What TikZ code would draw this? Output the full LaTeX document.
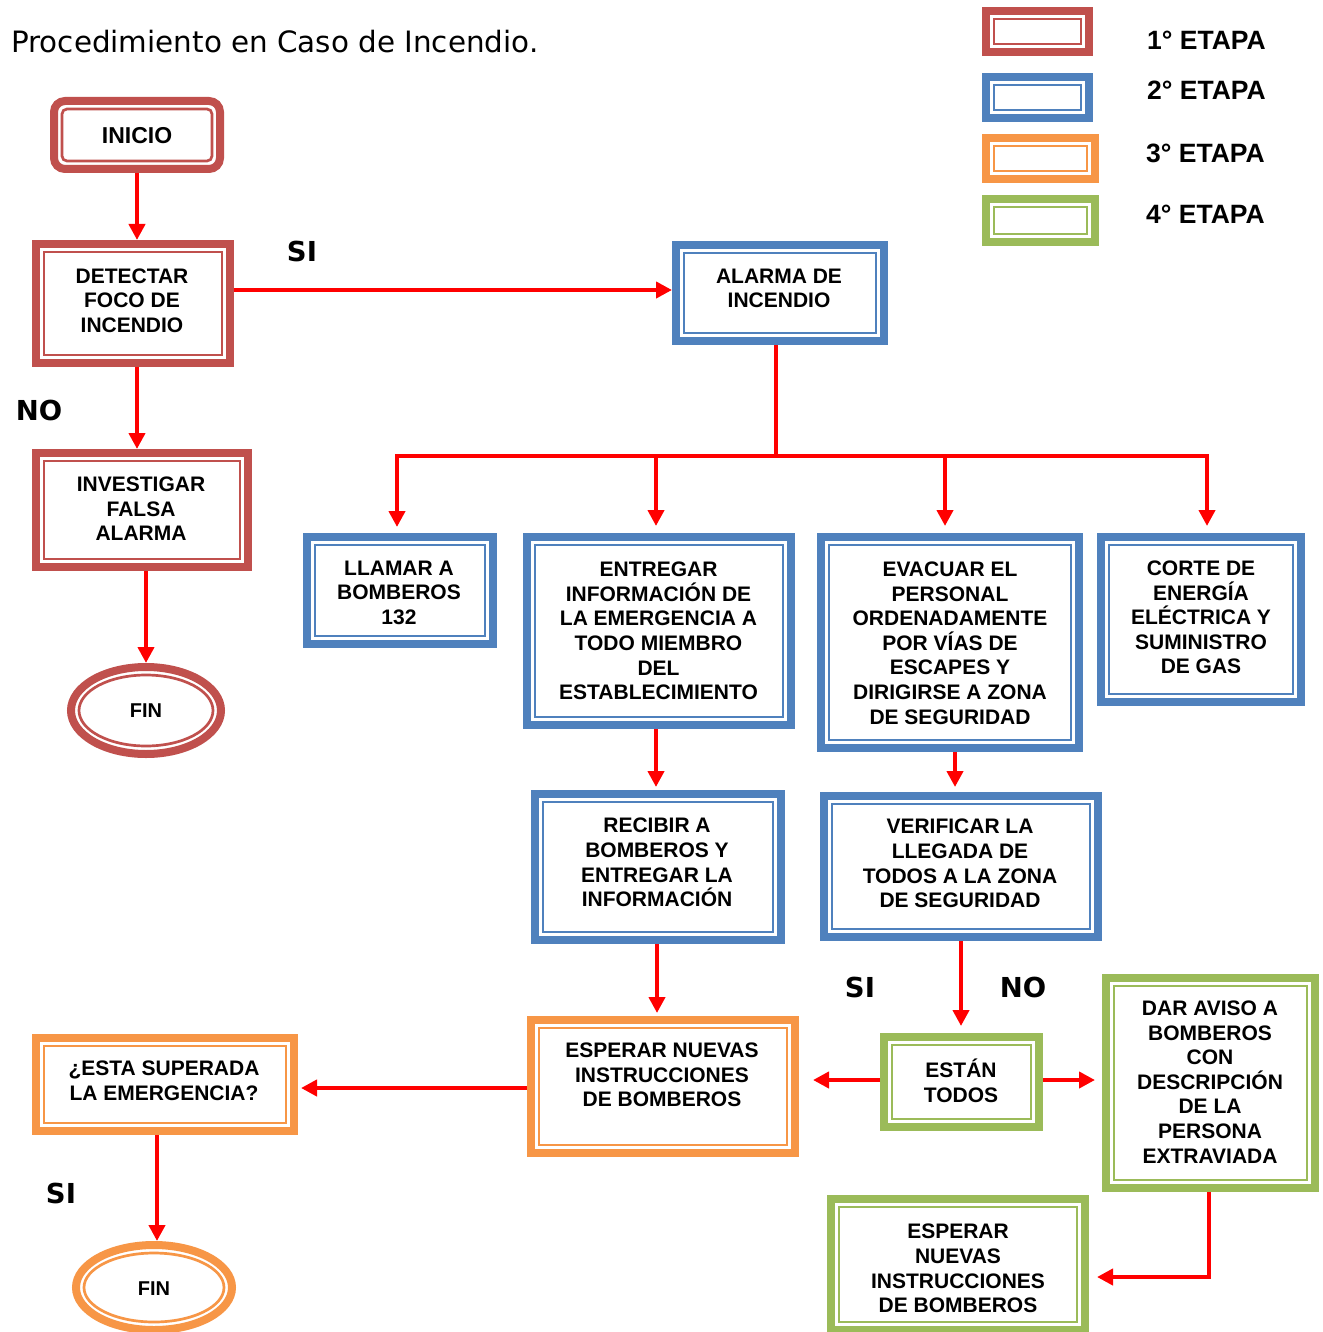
\documentclass[tikz,border=0pt]{standalone}
\usepackage{fontspec}
\setmainfont{Liberation Sans}
\newfontfamily\titlefont{DejaVu Sans}
\usetikzlibrary{arrows.meta,shapes.geometric,calc}
\definecolor{cRed}{HTML}{C0504D}
\definecolor{cBlue}{HTML}{4F81BD}
\definecolor{cOrange}{HTML}{F79646}
\definecolor{cGreen}{HTML}{9BBB59}
\definecolor{arrRed}{HTML}{FF0000}
\tikzset{
  stagebox/.style={rectangle, draw=#1, line width=8pt, fill=white, inner sep=0pt,
    path picture={\draw[#1, line width=2.7pt]
      ([shift={(8pt,8pt)}]path picture bounding box.south west) rectangle
      ([shift={(-8pt,-8pt)}]path picture bounding box.north east);}},
  stageround/.style={rectangle, rounded corners=11pt, draw=#1, line width=8pt, fill=white, inner sep=0pt,
    path picture={\draw[#1, line width=2.7pt, rounded corners=5pt]
      ([shift={(8pt,8pt)}]path picture bounding box.south west) rectangle
      ([shift={(-8pt,-8pt)}]path picture bounding box.north east);}},
  stageell/.style={ellipse, draw=#1, line width=8pt, fill=white, inner sep=0pt,
    path picture={\draw[#1, line width=2.7pt]
      let \p1=(path picture bounding box.north east),
          \p2=(path picture bounding box.center) in
      (\p2) ellipse [x radius={\x1-\x2-8pt}, y radius={\y1-\y2-8pt}];}},
  txt/.style={align=center, inner sep=0pt, font=\fontsize{21}{24.6}\selectfont\bfseries},
  lbl/.style={inner sep=0pt, font=\titlefont\fontsize{27.5}{30}\selectfont\bfseries},
  legtxt/.style={anchor=base west, inner sep=0pt, font=\fontsize{26.5}{30}\selectfont\bfseries},
  lin/.style={draw=arrRed, line width=4pt},
  arr/.style={draw=arrRed, line width=4pt, -{Triangle[length=16pt,width=16pt]}},
}
\begin{document}
\begin{tikzpicture}[x=1pt,y=-1pt]
\fill[white] (0,0) rectangle (1322,1332);
\useasboundingbox (0,0) rectangle (1322,1332);

% title
\node[anchor=base west, inner sep=0pt, font=\titlefont\fontsize{29.4}{34}\selectfont] (title) at (11,53) {Procedimiento en Caso de Incendio.};

% legend
\node[stagebox=cRed, minimum width=103pt, minimum height=41pt] (leg1) at (1037.5,31.5) {};
\node[stagebox=cBlue, minimum width=103pt, minimum height=41pt] (leg2) at (1037.5,97.5) {};
\node[stagebox=cOrange, minimum width=109pt, minimum height=41pt] (leg3) at (1040.5,158.5) {};
\node[stagebox=cGreen, minimum width=109pt, minimum height=43pt] (leg4) at (1040.5,220.5) {};
\node[legtxt] (leg1t) at (1147,49.3) {1° ETAPA};
\node[legtxt] (leg2t) at (1147,100) {2° ETAPA};
\node[legtxt] (leg3t) at (1146,162.3) {3° ETAPA};
\node[legtxt] (leg4t) at (1146,224) {4° ETAPA};

% stage 1
\node[stageround=cRed, minimum width=166pt, minimum height=68pt] (inicio) at (137,135) {};
\node[txt, font=\fontsize{23}{27}\selectfont\bfseries] (inicio-t) at (137,135.5) {INICIO};
\node[stagebox=cRed, minimum width=194pt, minimum height=119pt] (detectar) at (133,303.5) {};
\node[txt] (detectar-t) at (132,300.5) {DETECTAR\\FOCO DE\\INCENDIO};
\node[stagebox=cRed, minimum width=212pt, minimum height=114pt] (investigar) at (142,510) {};
\node[txt] (investigar-t) at (141,509) {INVESTIGAR\\FALSA\\ALARMA};
\node[stageell=cRed, minimum width=150pt, minimum height=87pt] (fin1) at (146,710.5) {};
\node[txt, font=\fontsize{20}{24}\selectfont\bfseries] (fin1-t) at (146,711) {FIN};

% stage 2
\node[stagebox=cBlue, minimum width=208pt, minimum height=96pt] (alarma) at (780,293) {};
\node[txt] (alarma-t) at (779,288.5) {ALARMA DE\\INCENDIO};
\node[stagebox=cBlue, minimum width=186pt, minimum height=107pt] (llamar) at (400,590.5) {};
\node[txt] (llamar-t) at (399,592.5) {LLAMAR A\\BOMBEROS\\132};
\node[stagebox=cBlue, minimum width=264pt, minimum height=188pt] (entregar) at (659,631) {};
\node[txt] (entregar-t) at (658.5,631) {ENTREGAR\\INFORMACIÓN DE\\LA EMERGENCIA A\\TODO MIEMBRO\\DEL\\ESTABLECIMIENTO};
\node[stagebox=cBlue, minimum width=258pt, minimum height=211pt] (evacuar) at (950,642.5) {};
\node[txt] (evacuar-t) at (950,643) {EVACUAR EL\\PERSONAL\\ORDENADAMENTE\\POR VÍAS DE\\ESCAPES Y\\DIRIGIRSE A ZONA\\DE SEGURIDAD};
\node[stagebox=cBlue, minimum width=200pt, minimum height=165pt] (corte) at (1201,619.5) {};
\node[txt] (corte-t) at (1201,617.5) {CORTE DE\\ENERGÍA\\ELÉCTRICA Y\\SUMINISTRO\\DE GAS};
\node[stagebox=cBlue, minimum width=246pt, minimum height=146pt] (recibir) at (658,867) {};
\node[txt] (recibir-t) at (657,862.5) {RECIBIR A\\BOMBEROS Y\\ENTREGAR LA\\INFORMACIÓN};
\node[stagebox=cBlue, minimum width=274pt, minimum height=141pt] (verificar) at (961,866.5) {};
\node[txt] (verificar-t) at (960,863.5) {VERIFICAR LA\\LLEGADA DE\\TODOS A LA ZONA\\DE SEGURIDAD};

% stage 3
\node[stagebox=cOrange, minimum width=264pt, minimum height=133pt] (esperaro) at (663,1086.5) {};
\node[txt] (esperaro-t) at (662,1075) {ESPERAR NUEVAS\\INSTRUCCIONES\\DE BOMBEROS};
\node[stagebox=cOrange, minimum width=258pt, minimum height=93pt] (esta) at (165,1084.5) {};
\node[txt] (esta-t) at (164,1080.5) {¿ESTA SUPERADA\\LA EMERGENCIA?};
\node[stageell=cOrange, minimum width=156pt, minimum height=85pt] (fin2) at (154,1287.5) {};
\node[txt, font=\fontsize{20}{24}\selectfont\bfseries] (fin2-t) at (154,1288.5) {FIN};

% stage 4
\node[stagebox=cGreen, minimum width=155pt, minimum height=90pt] (estan) at (961.5,1082) {};
\node[txt] (estan-t) at (961,1081) {ESTÁN\\TODOS};
\node[stagebox=cGreen, minimum width=209pt, minimum height=210pt] (dar) at (1210.5,1083) {};
\node[txt] (dar-t) at (1210,1082) {DAR AVISO A\\BOMBEROS\\CON\\DESCRIPCIÓN\\DE LA\\PERSONA\\EXTRAVIADA};
\node[stagebox=cGreen, minimum width=254pt, minimum height=131pt] (esperarg) at (958,1264.5) {};
\node[txt] (esperarg-t) at (958,1268.5) {ESPERAR\\NUEVAS\\INSTRUCCIONES\\DE BOMBEROS};

% labels
\node[lbl] (si1) at (302,251) {SI};
\node[lbl] (no1) at (39,410) {NO};
\node[lbl] (si2) at (860,987) {SI};
\node[lbl] (no2) at (1023,987) {NO};
\node[lbl] (si3) at (61,1193) {SI};

% connectors
\draw[arr] (inicio.south) -- (inicio.south |- detectar.north);
\draw[arr] ([yshift=3pt]detectar.east |- alarma.west) -- ([yshift=3pt]alarma.west);
\draw[arr] ([xshift=4pt]detectar.south) -- ([xshift=4pt]detectar.south |- investigar.north);
\draw[arr] (investigar.south -| fin1.north) -- (fin1.north);

\coordinate (bus) at ([shift={(-4,111)}]alarma.south);
\draw[lin] ([xshift=-4pt]alarma.south) -- (bus);
\draw[arr, shorten >=6pt] (bus) -| ([xshift=-3pt]llamar.north);
\draw[arr, shorten >=7pt] (bus) -| ([xshift=6pt]corte.north);
\draw[arr, shorten >=7pt] ([xshift=-3pt]entregar.north |- bus) -- ([xshift=-3pt]entregar.north);
\draw[arr, shorten >=7pt] ([xshift=-5pt]evacuar.north |- bus) -- ([xshift=-5pt]evacuar.north);

\draw[arr, shorten >=3pt] ([xshift=-3pt]entregar.south) -- ([xshift=-3pt]entregar.south |- recibir.north);
\draw[arr, shorten >=5pt] ([xshift=5pt]evacuar.south) -- ([xshift=5pt]evacuar.south |- verificar.north);
\draw[arr, shorten >=3pt] ([xshift=-1pt]recibir.south) -- ([xshift=-1pt]recibir.south |- esperaro.north);
\draw[arr, shorten >=7pt] (verificar.south) -- (verificar.south |- estan.north);
\draw[arr, shorten >=14pt] ([yshift=2pt]estan.west) -- ([yshift=2pt]estan.west -| esperaro.east);
\draw[arr, shorten >=7pt] ([yshift=2pt]estan.east) -- ([yshift=2pt]estan.east -| dar.west);
\draw[arr, shorten >=3pt] ([yshift=-1.5pt]esperaro.west) -- ([yshift=-1.5pt]esperaro.west -| esta.east);
\draw[arr] ([xshift=3pt]fin2.north |- esta.south) -- ([xshift=3pt]fin2.north);
\draw[arr, shorten >=8pt] ([xshift=-2pt]dar.south) |- ([yshift=-12.5pt]esperarg.east);
\end{tikzpicture}
\end{document}
